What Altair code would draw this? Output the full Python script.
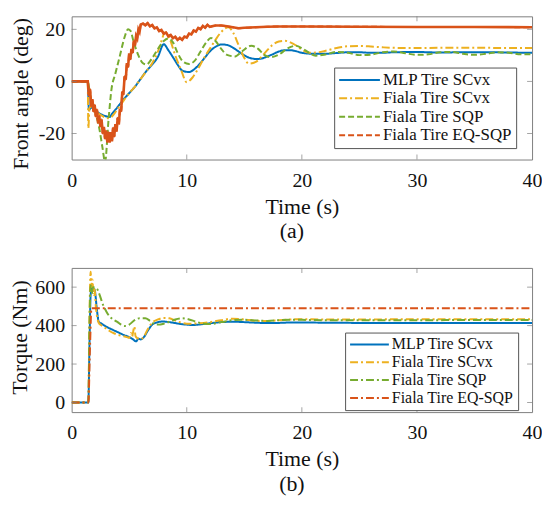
import altair as alt
import pandas as pd

FONT = "Liberation Serif, Times New Roman, serif"
AXIS_COLOR = "#7f7f7f"
SERIES = ["MLP Tire SCvx", "Fiala Tire SCvx", "Fiala Tire SQP", "Fiala Tire EQ-SQP"]
COLORS = ["#0072BD", "#EDB120", "#77AC30", "#D95319"]

# ---------------- panel (a): front angle (deg) ----------------
mlp_a_t = [0, 1.4, 1.5, 1.7, 2.0, 2.5, 3.0, 3.3, 3.5, 4.0, 4.5, 5.0, 5.5, 6.0, 6.5, 7.0, 7.5, 8.0, 8.4, 8.8,
           9.2, 9.6, 10.2, 10.6, 11.0, 11.6, 12.0, 12.5, 13.0, 13.5, 14.0, 14.5, 15.0, 15.5, 16.1, 16.5, 17.0,
           17.5, 18.0, 18.6, 19.0, 19.5, 20.0, 21.0, 22.0, 23.0, 24.0, 25.0, 26.0, 27.0, 28.0, 30.0, 32.0,
           34.0, 36.0, 38.0, 40.0]
mlp_a_y = [0, 0, -11, -10, -11, -12.5, -13.4, -13.7, -12.5, -9.8, -7.0, -4.5, -2.0, 1.0, 4.0, 6.5, 9.5, 14.3,
           12.0, 9.3, 6.5, 4.2, 3.6, 4.5, 6.1, 9.3, 11.5, 13.3, 14.2, 14.0, 13.0, 11.5, 10.0, 9.0, 8.6, 8.8,
           9.6, 10.5, 11.5, 12.0, 12.0, 11.6, 11.0, 10.6, 10.6, 10.9, 11.2, 11.2, 11.0, 11.0, 11.2, 11.3,
           11.1, 11.2, 11.2, 11.1, 11.0]

sc_a_t = [0, 1.4, 1.45, 1.55, 1.8, 2.0, 2.5, 3.0, 3.3, 3.6, 4.0, 4.5, 5.0, 5.5, 6.0, 6.5, 7.0, 7.5, 7.8, 8.1,
          8.5, 9.0, 9.5, 10.0, 10.5, 11.0, 11.5, 12.0, 12.5, 13.0, 13.6, 14.0, 14.5, 15.0, 15.4, 16.0, 16.5,
          17.0, 17.5, 18.0, 18.5, 19.0, 19.5, 20.0, 20.7, 21.5, 22.0, 23.0, 24.0, 25.0, 26.0, 27.0, 28.0,
          30.0, 32.0, 34.0, 36.0, 38.0, 40.0]
sc_a_y = [0, 0, -18, -10, -9.5, -11, -12.8, -14, -14.2, -13, -10.5, -7.5, -4.5, -2.0, 1.0, 4.0, 7.0, 11.5,
          15.5, 18.8, 16.5, 10, 4.5, -0.3, 1.5, 5, 9, 12.5, 16, 19, 20.8, 19, 14, 9, 6.8, 7.5, 9.5, 12, 14.2,
          15.3, 15.6, 15, 13.8, 12.2, 11.0, 11.2, 11.7, 12.8, 13.5, 13.6, 13.4, 13.1, 12.9, 12.8, 12.9, 12.9,
          12.9, 12.8, 12.8]

sqp_a_t = [0, 1.4, 1.6, 2.0, 2.4, 2.7, 2.9, 3.2, 3.45, 3.8, 4.2, 4.6, 4.9, 5.1, 5.4, 5.8, 6.2, 6.5, 7.0, 7.5,
           8.0, 8.4, 8.8, 9.2, 9.7, 10.2, 10.7, 11.2, 11.7, 12.1, 12.5, 13.0, 13.5, 14.2, 14.8, 15.6, 16.2,
           16.7, 17.3, 18.0, 18.8, 19.5, 20.2, 21.2, 22.0, 23.0, 24.0, 25.0, 26.0, 27.0, 28.0, 29.0, 30.0,
           31.0, 32.0, 33.0, 34.0, 35.0, 36.0, 37.0, 38.0, 39.0, 40.0]
sqp_a_y = [0, 0, -5, -11, -18, -26, -31, -15, -3.4, 3, 10, 17, 20, 19.5, 15, 10, 7, 6.5, 9, 12.5, 15.5, 16.5,
           15, 11, 7.5, 6.7, 8, 11.5, 15, 16.7, 15.5, 12.5, 10.2, 9.6, 11.5, 13.7, 12.5, 10.3, 9.3, 10.3, 12.8,
           13.7, 12.2, 9.9, 10.3, 11.3, 11.0, 10.1, 10.3, 11.2, 11.5, 10.8, 10.2, 10.4, 11.2, 11.3, 10.6,
           10.2, 10.6, 11.2, 11.0, 10.4, 10.5]

eq_a_t = [0, 1.4,
          1.5, 1.6, 1.7, 1.8, 1.9, 2.0, 2.1, 2.2, 2.3, 2.4, 2.5, 2.6, 2.7, 2.8, 2.9, 3.0, 3.1, 3.2, 3.3, 3.4,
          3.5, 3.6, 3.7, 3.8, 3.9, 4.0, 4.1, 4.2, 4.3, 4.4, 4.5, 4.6, 4.7, 4.8, 4.9, 5.0, 5.1, 5.2, 5.3, 5.4,
          5.5, 5.6, 5.7, 5.8, 5.9, 6.0,
          6.2, 6.4, 6.6, 6.8, 7.0, 7.2, 7.4, 7.6, 7.8, 8.0, 8.2, 8.4, 8.6, 8.8, 9.0, 9.2, 9.4, 9.6, 9.8, 10.0,
          10.2, 10.4, 10.6, 10.8, 11.0, 11.2, 11.4, 11.6, 11.8, 12.0,
          12.5, 13.0, 13.5, 14.0, 14.5, 15.0, 16.0, 17.0, 18.0, 20.0, 25.0, 30.0, 35.0, 40.0]
eq_a_y = [0, 0,
          -5.5, -3, -9.5, -6.8, -11.6, -9, -13.5, -10.8, -16, -13.2, -17.6, -14.6, -20, -17.5, -22, -19, -23.3,
          -19.5, -23.5, -19.5, -23, -17.8, -21.2, -16.4, -19.3, -14, -16.5, -10.5, -11.5, -4, -5, 2, 0.7, 7,
          5.5, 10.8, 8.5, 12.5, 11, 15.5, 13.8, 17.5, 16.5, 20, 19, 21.8,
          22.25, 21.55, 22.35, 21.15, 21.65, 20.35, 20.75, 19.35, 19.75, 18.35, 18.75, 17.35, 17.85, 16.55,
          17.15, 15.95, 16.75, 15.95, 17.25, 16.85, 18.35, 18.05, 19.55, 19.15, 20.55, 20.05, 21.35, 20.65,
          21.75, 20.95,
          21.5, 21.5, 21.2, 20.8, 20.4, 20.6, 20.8, 21.0, 21.1, 21.1, 21.0, 20.9, 20.9, 20.8]

# ---------------- panel (b): torque (Nm) ----------------
mlp_b_t = [0, 1.45, 1.55, 1.65, 1.75, 2.0, 2.2, 2.35, 2.6, 3.0, 3.5, 4.0, 4.5, 5.0, 5.3, 5.6, 5.8, 6.0, 6.3,
           6.6, 7.0, 7.4, 7.9, 8.5, 9.0, 9.5, 10.0, 10.5, 11.0, 12.0, 13.0, 14.0, 15.0, 16.0, 17.0, 18.0, 19.0,
           20.0, 22.0, 25.0, 30.0, 35.0, 40.0]
mlp_b_v = [0, 0, 300, 560, 600, 585, 480, 420, 410, 395, 380, 366, 352, 340, 330, 318, 332, 328, 342, 372,
           405, 416, 421, 418, 413, 408, 405, 403, 405, 412, 418, 420, 418, 415, 413, 414, 416, 416, 415, 414,
           414, 414, 414]

sc_b_t = [0, 1.45, 1.55, 1.65, 1.72, 1.8, 1.9, 2.0, 2.1, 2.2, 2.35, 2.6, 3.0, 3.3, 3.6, 4.0, 4.4, 4.8, 5.0,
          5.15, 5.25, 5.35, 5.45, 5.55, 5.7, 6.0, 6.3, 6.6, 7.0, 7.5, 8.0, 8.5, 9.0, 9.5, 10.0, 10.5, 11.0,
          12.0, 13.0, 14.0, 15.0, 16.0, 17.0, 18.0, 19.0, 20.0, 22.0, 25.0, 30.0, 35.0, 40.0]
sc_b_v = [0, 0, 450, 680, 600, 640, 560, 590, 500, 450, 415, 400, 385, 372, 362, 352, 346, 340, 336, 362,
          342, 370, 395, 345, 335, 330, 345, 380, 415, 432, 440, 438, 426, 416, 410, 410, 412, 418, 428, 436,
          432, 425, 424, 428, 432, 433, 432, 432, 433, 433, 433]

sqp_b_t = [0, 1.45, 1.55, 1.65, 1.75, 1.85, 2.0, 2.2, 2.4, 2.7, 3.0, 3.2, 3.6, 4.0, 4.3, 4.6, 5.0, 5.4, 5.9,
           6.4, 6.8, 7.2, 7.6, 8.0, 8.5, 9.0, 9.6, 10.2, 10.8, 11.5, 12.0, 13.0, 14.0, 15.0, 16.0, 17.0, 18.0,
           19.0, 20.0, 22.0, 25.0, 30.0, 35.0, 40.0]
sqp_b_v = [0, 0, 400, 610, 565, 600, 598, 592, 565, 512, 475, 455, 432, 418, 405, 398, 405, 425, 438, 438,
           425, 408, 405, 410, 420, 432, 438, 432, 420, 410, 408, 418, 428, 430, 427, 424, 428, 431, 430, 428,
           428, 428, 429, 429]

eq_b_t = [0, 1.45, 1.6, 1.72, 40.0]
eq_b_v = [0, 0, 300, 490, 490]

# tick values
x_ticks = [0, 10, 20, 30, 40]
ya_ticks = [-20, 0, 20]
yb_ticks = [0, 200, 400, 600]

W, H1, H2 = 463, 144, 145


def frame(ts, vs, name):
    return pd.DataFrame({"t": ts, "v": vs, "series": name})


df_a = pd.concat([frame(mlp_a_t, mlp_a_y, SERIES[0]), frame(sc_a_t, sc_a_y, SERIES[1]),
                  frame(sqp_a_t, sqp_a_y, SERIES[2]), frame(eq_a_t, eq_a_y, SERIES[3])])
df_a_red = frame(eq_a_t, eq_a_y, SERIES[3])
df_b = pd.concat([frame(mlp_b_t, mlp_b_v, SERIES[0]), frame(sc_b_t, sc_b_v, SERIES[1]),
                  frame(sqp_b_t, sqp_b_v, SERIES[2]), frame(eq_b_t, eq_b_v, SERIES[3])])

x_scale = alt.Scale(domain=[0, 40], nice=False, zero=False)
ya_scale = alt.Scale(domain=[-30, 25], nice=False, zero=False)
yb_scale = alt.Scale(domain=[-50, 700], nice=False, zero=False)

LABEL_EXPR = "replace(datum.label, '\u2212', '-')"


def make_legend(lx, ly, fs, sym, rowpad):
    return alt.Legend(title=None, orient="none", legendX=lx, legendY=ly, labelFont=FONT, labelFontSize=fs,
                      labelColor="#111", symbolType="stroke", symbolSize=sym * sym, symbolStrokeWidth=2,
                      strokeColor="#555", fillColor="white", padding=4, rowPadding=rowpad, clipHeight=fs,
                      labelOffset=2, labelLimit=300)


def panel(df, red_df, y_scale, y_title, y_ticks, H, dashes, leg, title_pad, title_y, label, red_width):
    xax = alt.Axis(values=x_ticks, title="Time (s)", labelPadding=11, titlePadding=6, labelFlush=False,
                   format="d", labelFont=FONT, titleFont=FONT)
    yax = alt.Axis(values=y_ticks, title=y_title, labelPadding=7, titlePadding=title_pad, titleY=title_y,
                   labelExpr=LABEL_EXPR, labelFont=FONT, titleFont=FONT)
    lines = alt.Chart(df).mark_line(strokeWidth=2, clip=True, interpolate="monotone").encode(
        x=alt.X("t:Q", scale=x_scale, axis=xax),
        y=alt.Y("v:Q", scale=y_scale, axis=yax),
        color=alt.Color("series:N", scale=alt.Scale(domain=SERIES, range=COLORS), legend=leg),
        strokeDash=alt.StrokeDash("series:N", scale=alt.Scale(domain=SERIES, range=dashes), legend=leg),
    )
    layers = [lines]
    if red_df is not None:
        layers.append(alt.Chart(red_df).mark_line(strokeWidth=red_width, clip=True, color=COLORS[3]).encode(
            x=alt.X("t:Q", scale=x_scale, title="Time (s)"),
            y=alt.Y("v:Q", scale=y_scale, title=y_title)))
    xt = pd.DataFrame({"t": x_ticks[1:-1]})
    yt = pd.DataFrame({"v": y_ticks})
    for yp in (H - 2.5, 2.5):
        layers.append(alt.Chart(xt).mark_tick(orient="vertical", size=5, thickness=1, color=AXIS_COLOR).encode(
            x=alt.X("t:Q", scale=x_scale, title="Time (s)"), y=alt.value(yp)))
    for xp in (2.5, W - 2.5):
        layers.append(alt.Chart(yt).mark_tick(orient="horizontal", size=5, thickness=1, color=AXIS_COLOR).encode(
            y=alt.Y("v:Q", scale=y_scale, title=y_title), x=alt.value(xp)))
    return alt.layer(*layers).properties(
        width=W, height=H,
        title=alt.TitleParams(label, orient="bottom", anchor="middle", dx=-10, offset=4))


DASH_A = [[1, 0], [8, 3, 2, 3], [6, 3], [6, 3]]
DASH_B = [[1, 0], [8, 3, 2, 3], [8, 3, 2, 3], [8, 3, 2, 3]]

top = panel(df_a, df_a_red, ya_scale, "Front angle (deg)", ya_ticks, H1, DASH_A,
            make_legend(264, 51.5, 17, 41, 0.5), 6, 77.5, "(a)", 2.6)
bottom = panel(df_b, None, yb_scale, "Torque (Nm)", yb_ticks, H2, DASH_B,
               make_legend(275, 65, 16, 39, 1.9), 3, 69.5, "(b)", 2)

chart = alt.vconcat(top, bottom, spacing=24).resolve_scale(
    color="independent", strokeDash="independent").resolve_legend(
    color="independent", strokeDash="independent").properties(
    padding={"left": 0, "top": 6, "right": -1, "bottom": 0}
).configure_view(stroke=AXIS_COLOR, strokeWidth=1).configure_axis(
    labelFont=FONT, titleFont=FONT, labelColor="#111", titleColor="#111", titleFontWeight="normal",
    grid=False, domain=False, ticks=False, labelFontSize=20, titleFontSize=22
).configure_title(font=FONT, fontSize=22, fontWeight="normal", color="#111")

chart.save("out.html", embed_options={"renderer": "svg", "actions": False})
